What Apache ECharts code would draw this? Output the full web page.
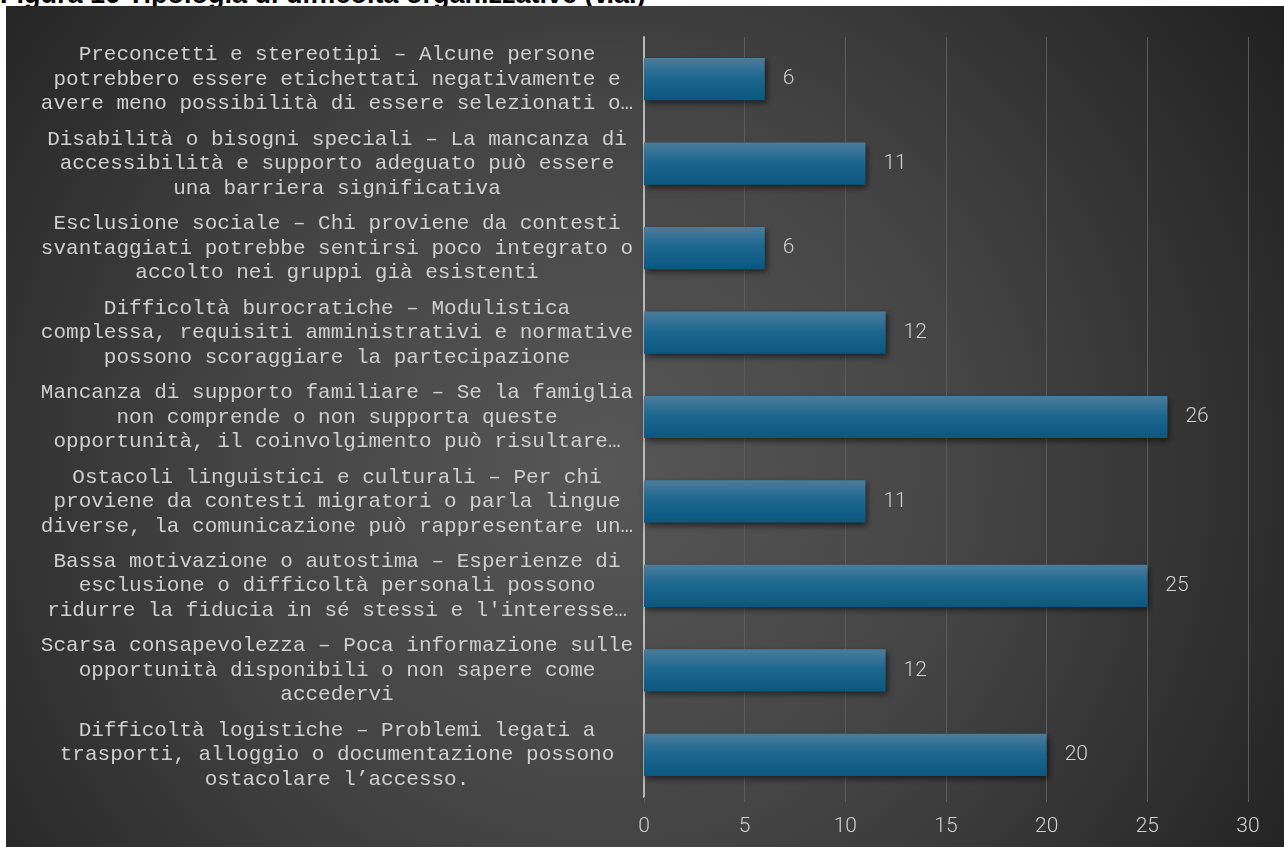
<!DOCTYPE html>
<html>
<head>
<meta charset="utf-8">
<script src="https://cdn.jsdelivr.net/npm/echarts@6/dist/echarts.min.js"></script>
<style>
  html, body { margin: 0; padding: 0; background: #ffffff; width: 1284px; height: 847px; overflow: hidden; }
  #titlebox { position: absolute; left: 0; top: 0; width: 1284px; height: 6px; overflow: hidden; }
  #titlebox span { position: absolute; left: 0; top: -19px; line-height: 27px; font-family: "Liberation Sans", Arial, sans-serif; font-weight: bold; font-size: 27px; color: #000; white-space: nowrap; }
  #chart { position: absolute; left: 6px; top: 6px; width: 1278px; height: 841px; }
</style>
</head>
<body>
<div id="titlebox"><span>Figura 16 Tipologia di difficoltà organizzative (v.a.)</span></div>
<div id="chart"></div>
<script>
// Categories listed bottom-to-top (ECharts category axis order)
const categories = [
  "Difficoltà logistiche – Problemi legati a\ntrasporti, alloggio o documentazione possono\nostacolare l’accesso.",
  "Scarsa consapevolezza – Poca informazione sulle\nopportunità disponibili o non sapere come\naccedervi",
  "Bassa motivazione o autostima – Esperienze di\nesclusione o difficoltà personali possono\nridurre la fiducia in sé stessi e l'interesse…",
  "Ostacoli linguistici e culturali – Per chi\nproviene da contesti migratori o parla lingue\ndiverse, la comunicazione può rappresentare un…",
  "Mancanza di supporto familiare – Se la famiglia\nnon comprende o non supporta queste\nopportunità, il coinvolgimento può risultare…",
  "Difficoltà burocratiche – Modulistica\ncomplessa, requisiti amministrativi e normative\npossono scoraggiare la partecipazione",
  "Esclusione sociale – Chi proviene da contesti\nsvantaggiati potrebbe sentirsi poco integrato o\naccolto nei gruppi già esistenti",
  "Disabilità o bisogni speciali – La mancanza di\naccessibilità e supporto adeguato può essere\nuna barriera significativa",
  "Preconcetti e stereotipi – Alcune persone\npotrebbero essere etichettati negativamente e\navere meno possibilità di essere selezionati o…"
];
const values = [20, 12, 25, 11, 26, 12, 6, 11, 6];
const xTicks = { min: 0, max: 30, interval: 5 };

const chart = echarts.init(document.getElementById('chart'), null, { renderer: 'canvas' });
chart.setOption({
  animation: false,
  backgroundColor: {
    type: 'radial', x: 0.47, y: 0.55, r: 1.0,
    colorStops: [
      { offset: 0, color: '#575757' },
      { offset: 0.45, color: '#444444' },
      { offset: 1, color: '#1f1f1f' }
    ]
  },
  grid: { left: 638, right: 36, top: 31, bottom: 50, containLabel: false },
  xAxis: {
    type: 'value',
    min: xTicks.min, max: xTicks.max, interval: xTicks.interval,
    axisLine: { show: false },
    axisTick: { show: true, length: 5, lineStyle: { color: '#5c5c5c', width: 1 } },
    splitLine: { show: true, lineStyle: { color: '#5c5c5c', width: 1 } },
    axisLabel: {
      color: '#d0d0d0', fontFamily: 'Roboto, "Open Sans", sans-serif', fontWeight: 300,
      fontSize: 21, margin: 19
    }
  },
  yAxis: {
    type: 'category',
    data: categories,
    axisLine: { show: true, lineStyle: { color: '#b8b8b8', width: 2 } },
    axisTick: { show: false },
    splitLine: { show: false },
    axisLabel: {
      color: '#cfcfcf', fontFamily: '"Liberation Mono", "Courier New", monospace',
      fontSize: 21, lineHeight: 24.5, align: 'center', margin: 307
    }
  },
  series: [{
    type: 'bar',
    data: values,
    barCategoryGap: '50%',
    itemStyle: {
      color: {
        type: 'linear', x: 0, y: 0, x2: 0, y2: 1,
        colorStops: [
          { offset: 0, color: '#4b7c9b' },
          { offset: 0.45, color: '#1e6890' },
          { offset: 1, color: '#0a5780' }
        ]
      },
      shadowColor: 'rgba(0,0,0,0.55)', shadowBlur: 6, shadowOffsetX: 2, shadowOffsetY: 3
    },
    label: {
      show: true, position: 'right', distance: 18,
      color: '#d0d0d0', fontFamily: 'Roboto, "Open Sans", sans-serif', fontWeight: 300, fontSize: 21
    }
  }]
});
</script>
</body>
</html>
